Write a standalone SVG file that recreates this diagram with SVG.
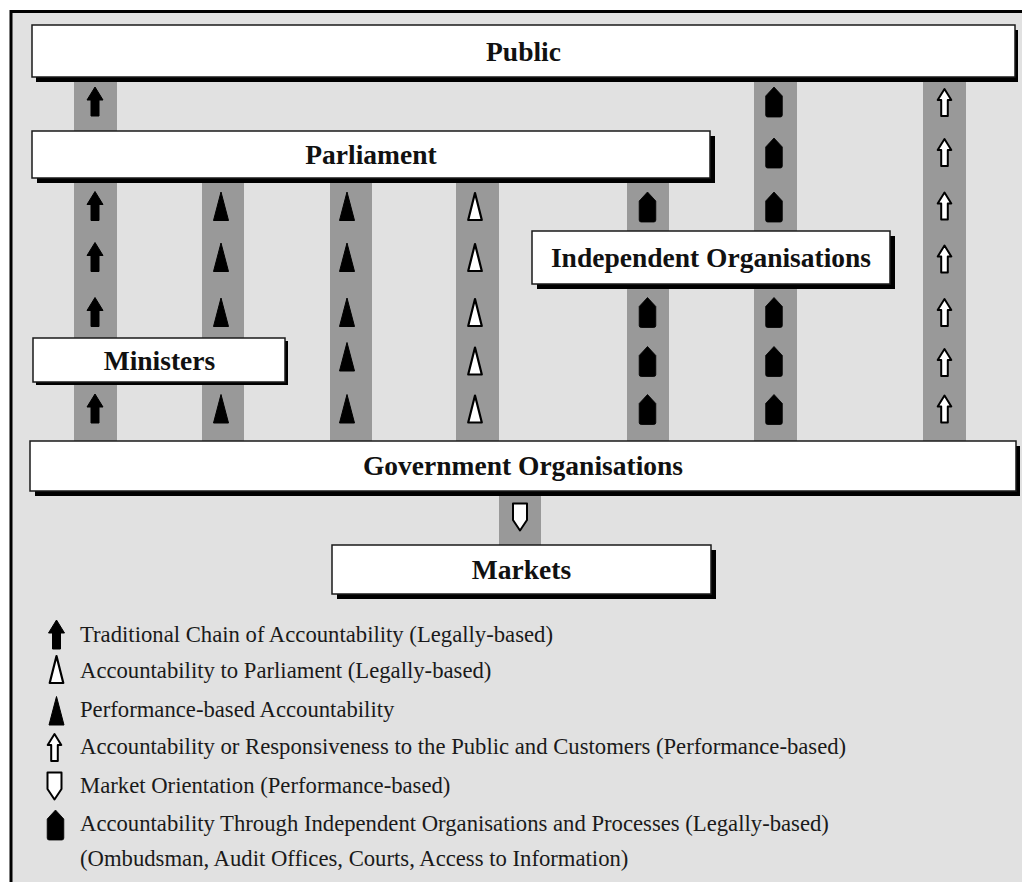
<svg xmlns="http://www.w3.org/2000/svg" xmlns:xlink="http://www.w3.org/1999/xlink" width="1022" height="882" viewBox="0 0 1022 882">
<style>
.frame{fill:#e1e1e1;stroke:#000;stroke-width:3}
.strip{fill:#999999}
.box{fill:#ffffff;stroke:#1a1a1a;stroke-width:1.5}
.shadow{fill:#000}
.lbl{font-family:"Liberation Serif","Times New Roman",serif;font-weight:bold;font-size:27.5px;fill:#111;text-anchor:middle}
.leg{font-family:"Liberation Serif","Times New Roman",serif;font-size:22.7px;fill:#1a1a1a}
</style>
<defs>
<path id="trad" d="M0,-15 L8,-2 L4,-2 L4,14 L-4,14 L-4,-2 L-8,-2 Z" fill="#000" stroke="#000" stroke-width="1" stroke-linejoin="round"/>
<path id="perf" d="M0,-14.5 L7.5,14 L-7.5,14 Z" fill="#000" stroke="#000" stroke-width="1" stroke-linejoin="round"/>
<path id="parl" d="M0,-13.5 L6.8,13.5 L-6.8,13.5 Z" fill="#fff" stroke="#000" stroke-width="2.2" stroke-linejoin="round"/>
<path id="pub" d="M0,-13.5 L6.8,-2.5 L3.3,-2.5 L3.3,13.5 L-3.3,13.5 L-3.3,-2.5 L-6.8,-2.5 Z" fill="#fff" stroke="#000" stroke-width="2" stroke-linejoin="round"/>
<path id="indep" d="M0,-15 L8.3,-6 L8.3,13 Q8.3,15 6.3,15 L-6.3,15 Q-8.3,15 -8.3,13 L-8.3,-6 Z" fill="#000" stroke="#000" stroke-width="0.8" stroke-linejoin="round"/>
<path id="mkt" d="M-7,-13.5 L7,-13.5 L7,3 L0,13.5 L-7,3 Z" fill="#fff" stroke="#000" stroke-width="2" stroke-linejoin="round"/>
</defs>

<rect class="frame" x="11" y="11.5" width="1030" height="890"/>

<g id="connectors">
  <rect class="strip" x="74" y="77" width="43" height="54"/>
  <rect class="strip" x="74" y="178" width="43" height="263"/>
  <rect class="strip" x="202" y="178" width="42" height="263"/>
  <rect class="strip" x="330" y="178" width="42" height="263"/>
  <rect class="strip" x="456" y="178" width="43" height="263"/>
  <rect class="strip" x="627" y="178" width="42" height="263"/>
  <rect class="strip" x="754" y="77" width="43" height="364"/>
  <rect class="strip" x="923" y="77" width="43" height="364"/>
  <rect class="strip" x="499" y="491" width="42" height="54"/>

  <use xlink:href="#trad" x="95" y="102"/>
  <use xlink:href="#trad" x="95" y="206.5"/>
  <use xlink:href="#trad" x="95" y="257.5"/>
  <use xlink:href="#trad" x="95" y="312.5"/>
  <use xlink:href="#trad" x="95" y="409"/>

  <use xlink:href="#perf" x="221" y="206.5"/>
  <use xlink:href="#perf" x="221" y="257.5"/>
  <use xlink:href="#perf" x="221" y="312.5"/>
  <use xlink:href="#perf" x="221" y="409"/>

  <use xlink:href="#perf" x="347" y="206.5"/>
  <use xlink:href="#perf" x="347" y="257.5"/>
  <use xlink:href="#perf" x="347" y="312.5"/>
  <use xlink:href="#perf" x="347" y="357"/>
  <use xlink:href="#perf" x="347" y="409"/>

  <use xlink:href="#parl" x="475" y="206.5"/>
  <use xlink:href="#parl" x="475" y="257.5"/>
  <use xlink:href="#parl" x="475" y="312.5"/>
  <use xlink:href="#parl" x="475" y="361"/>
  <use xlink:href="#parl" x="475" y="409"/>

  <use xlink:href="#indep" x="647.5" y="207"/>
  <use xlink:href="#indep" x="647.5" y="312.5"/>
  <use xlink:href="#indep" x="647.5" y="361.5"/>
  <use xlink:href="#indep" x="647.5" y="409.5"/>

  <use xlink:href="#indep" x="774" y="102"/>
  <use xlink:href="#indep" x="774" y="153"/>
  <use xlink:href="#indep" x="774" y="207"/>
  <use xlink:href="#indep" x="774" y="312.5"/>
  <use xlink:href="#indep" x="774" y="361.5"/>
  <use xlink:href="#indep" x="774" y="409.5"/>

  <use xlink:href="#pub" x="944.5" y="102.5"/>
  <use xlink:href="#pub" x="944.5" y="152.5"/>
  <use xlink:href="#pub" x="944.5" y="206"/>
  <use xlink:href="#pub" x="944.5" y="259"/>
  <use xlink:href="#pub" x="944.5" y="312.5"/>
  <use xlink:href="#pub" x="944.5" y="362.5"/>
  <use xlink:href="#pub" x="944.5" y="409"/>

  <use xlink:href="#mkt" x="520" y="517"/>
</g>

<g id="public">
  <rect class="shadow" x="36" y="30" width="982" height="52"/>
  <rect class="box" x="32" y="25" width="983" height="52"/>
  <text class="lbl" x="523.5" y="60.5">Public</text>
</g>

<g id="parliament">
  <rect class="shadow" x="37" y="136" width="678" height="47"/>
  <rect class="box" x="32" y="131" width="678" height="47"/>
  <text class="lbl" x="371" y="163.5">Parliament</text>
</g>

<g id="independent">
  <rect class="shadow" x="537" y="236" width="358" height="53"/>
  <rect class="box" x="532" y="231" width="358" height="53"/>
  <text class="lbl" x="711" y="266.5">Independent Organisations</text>
</g>

<g id="ministers">
  <rect class="shadow" x="36" y="341" width="252" height="44"/>
  <rect class="box" x="33" y="338" width="252" height="44"/>
  <text class="lbl" x="159.5" y="369.5">Ministers</text>
</g>

<g id="government">
  <rect class="shadow" x="35" y="446" width="985" height="50"/>
  <rect class="box" x="30" y="441" width="986" height="50"/>
  <text class="lbl" x="523" y="475">Government Organisations</text>
</g>

<g id="markets">
  <rect class="shadow" x="337" y="550" width="379" height="49"/>
  <rect class="box" x="332" y="545" width="379" height="49"/>
  <text class="lbl" x="521.5" y="578.5">Markets</text>
</g>

<g id="legend">
  <use xlink:href="#trad" x="56.5" y="635"/>
  <use xlink:href="#parl" x="56.5" y="669.5"/>
  <use xlink:href="#perf" x="56.5" y="711"/>
  <use xlink:href="#pub" x="54.5" y="747.5"/>
  <use xlink:href="#mkt" x="54.5" y="786"/>
  <use xlink:href="#indep" x="55.5" y="825"/>
  <text class="leg" x="80" y="642">Traditional Chain of Accountability (Legally-based)</text>
  <text class="leg" x="80" y="678">Accountability to Parliament (Legally-based)</text>
  <text class="leg" x="80" y="717">Performance-based Accountability</text>
  <text class="leg" x="80" y="754">Accountability or Responsiveness to the Public and Customers (Performance-based)</text>
  <text class="leg" x="80" y="793">Market Orientation (Performance-based)</text>
  <text class="leg" x="80" y="831">Accountability Through Independent Organisations and Processes (Legally-based)</text>
  <text class="leg" x="80" y="866">(Ombudsman, Audit Offices, Courts, Access to Information)</text>
</g>
</svg>
